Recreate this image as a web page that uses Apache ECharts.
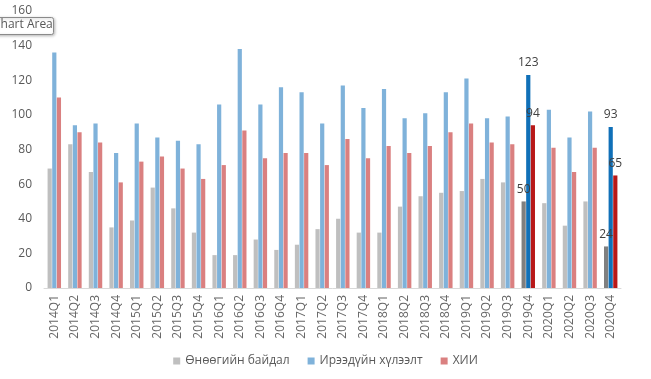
<!DOCTYPE html>
<html><head><meta charset="utf-8">
<script src="https://cdn.jsdelivr.net/npm/echarts@6/dist/echarts.min.js"></script>
<style>html,body{margin:0;padding:0;background:#fff}#c{width:651px;height:379px}</style>
</head><body><div id="c"></div>
<script>
const categories = ['2014Q1','2014Q2','2014Q3','2014Q4','2015Q1','2015Q2','2015Q3','2015Q4',
  '2016Q1','2016Q2','2016Q3','2016Q4','2017Q1','2017Q2','2017Q3','2017Q4',
  '2018Q1','2018Q2','2018Q3','2018Q4','2019Q1','2019Q2','2019Q3','2019Q4',
  '2020Q1','2020Q2','2020Q3','2020Q4'];
const currentState = [69, 83, 67, 35, 39, 58, 46, 32, 19, 19, 28, 22, 25, 34, 40, 32, 32, 47, 53, 55, 56, 63, 61, 50, 49, 36, 50, 24];
const expectation = [136, 94, 95, 78, 95, 87, 85, 83, 106, 138, 106, 116, 113, 95, 117, 104, 115, 98, 101, 113, 121, 98, 99, 123, 103, 87, 102, 93];
const cci = [110, 90, 84, 61, 73, 76, 69, 63, 71, 91, 75, 78, 78, 71, 86, 75, 82, 78, 82, 90, 95, 84, 83, 94, 81, 67, 81, 65];
const seriesNames = ['Өнөөгийн байдал', 'Ирээдүйн хүлээлт', 'ХИИ'];
const highlighted = ['2019Q4', '2020Q4'];

const FONT = '"Open Sans", "Noto Sans", sans-serif';
const baseColors = ['#BFBFBF', '#7FB2DA', '#DA8080'];
const darkColors = ['#7F7F7F', '#1070B8', '#B81818'];

function build(values, idx) {
  return values.map((v, i) => highlighted.includes(categories[i])
    ? { value: v, itemStyle: { color: darkColors[idx] },
        label: { show: true, position: 'top', distance: 6, color: '#404040', fontSize: 12, fontFamily: FONT } }
    : v);
}

const chart = echarts.init(document.getElementById('c'), null, { renderer: 'canvas' });
chart.setOption({
  animation: false,
  backgroundColor: '#fff',
  grid: { left: 44, right: 30, top: 11, bottom: 91, containLabel: false },
  legend: {
    bottom: 7, left: 'center', icon: 'rect', itemWidth: 7, itemHeight: 7, itemGap: 18,
    textStyle: { color: '#595959', fontSize: 12, fontFamily: FONT },
    data: seriesNames
  },
  xAxis: {
    type: 'category', data: categories,
    axisLine: { lineStyle: { color: '#D9D9D9' } },
    axisTick: { show: false },
    axisLabel: { rotate: 90, color: '#666666', fontSize: 12, fontFamily: FONT, margin: 7, interval: 0 }
  },
  yAxis: {
    type: 'value', min: 0, max: 160, interval: 20,
    axisLine: { show: false }, axisTick: { show: false },
    splitLine: { show: false },
    axisLabel: { color: '#595959', fontSize: 12, fontFamily: FONT, margin: 12 }
  },
  series: [currentState, expectation, cci].map((vals, idx) => ({
    name: seriesNames[idx], type: 'bar', data: build(vals, idx),
    itemStyle: { color: baseColors[idx] },
    barWidth: 4.2, barGap: '10%'
  })),
  graphic: [
    { type: 'rect', left: -10, top: 17, shape: { width: 63, height: 17, r: 2 },
      style: { fill: '#fff', stroke: '#8A8A8A', lineWidth: 1, shadowBlur: 3, shadowColor: 'rgba(0,0,0,0.25)', shadowOffsetX: 1, shadowOffsetY: 1 }, z: 100 },
    { type: 'text', left: -7, top: 19, style: { text: 'Chart Area', fill: '#575757', font: '12px ' + FONT }, z: 101 }
  ]
});
</script></body></html>
